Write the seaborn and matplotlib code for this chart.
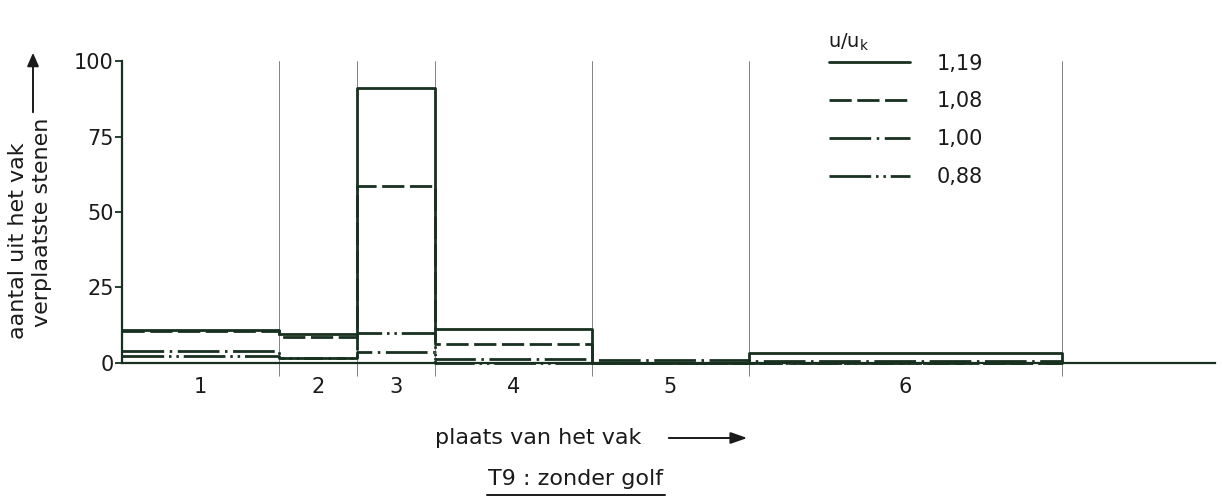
import matplotlib
matplotlib.use("Agg")
import matplotlib.pyplot as plt
import seaborn as sns
import pandas as pd

# Vak boundaries along the flume and the vak numbers
vak_edges = [0, 2, 3, 4, 6, 8, 12]
vak_labels = ["1", "2", "3", "4", "5", "6"]

# Number of stones moved out of each vak, per velocity ratio u/u_k
ratios = ["1,19", "1,08", "1,00", "0,88"]
n_119 = [11, 9.5, 91, 11.2, 0, 3.3]
n_108 = [10.5, 8.5, 58.5, 6.2, 0, 0]
n_100 = [4, 1.8, 3.5, 1.2, 1.0, 0.8]
n_088 = [2.2, 1.8, 10, 0, 0, 0]

y_ticks = [0, 25, 50, 75, 100]

ink = "#17301f"
text_ink = "#1a1a1a"
grid_ink = "#6e6e6e"
fs = 15
fs_cap = 16

sns.set_theme(style="white")
plt.rcParams["font.family"] = ["DejaVu Sans"]
plt.rcParams["lines.scale_dashes"] = False

line_styles = {
    "1,19": "-",
    "1,08": (0, (16, 4)),
    "1,00": (0, (30, 4, 1.8, 4)),
    "0,88": (0, (30, 3.5, 1.8, 3.5, 1.8, 3.5)),
}

fig = plt.figure(figsize=(12.22, 4.98), dpi=100)
ax = fig.add_axes([0.0998, 0.2711, 0.8945, 0.6064])

# Thin separators between the vakken
for e in vak_edges[1:]:
    ax.axvline(e, color=grid_ink, lw=0.6, zorder=1)

series = {"1,19": n_119, "1,08": n_108, "1,00": n_100, "0,88": n_088}
handles = []
for r in ratios[::-1]:
    vals = series[r]
    df = pd.DataFrame({"x": vak_edges, "n": list(vals) + [0]})
    sns.lineplot(data=df, x="x", y="n", ax=ax, color=ink, lw=2.0,
                 linestyle=line_styles[r], drawstyle="steps-post",
                 estimator=None, legend=False, zorder=3)
    ln = ax.lines[-1]
    ln.set_clip_on(False)
    ln.set_label(r)
    handles.append(ln)
handles = handles[::-1]

ax.set_xlim(0, 13.95)
ax.set_ylim(0, 100)
ax.set_xlabel("")
ax.set_ylabel("")

for s in ["top", "right"]:
    ax.spines[s].set_visible(False)
for s in ["left", "bottom"]:
    ax.spines[s].set_color(ink)
    ax.spines[s].set_linewidth(1.6)

ax.set_yticks(y_ticks)
ax.set_yticklabels([str(v) for v in y_ticks])
ax.tick_params(axis="y", direction="out", length=5, width=1.3, color=ink,
               pad=1, labelsize=fs, labelcolor=text_ink, left=True)

# Boundary ticks below the axis, vak numbers centred in each vak
ax.set_xticks(vak_edges[1:])
ax.set_xticklabels([""] * (len(vak_edges) - 1))
ax.tick_params(axis="x", which="major", direction="out", length=9,
               width=0.6, color=grid_ink, bottom=True)
centres = [(a + b) / 2 for a, b in zip(vak_edges[:-1], vak_edges[1:])]
ax.set_xticks(centres, minor=True)
ax.set_xticklabels(vak_labels, minor=True)
ax.tick_params(axis="x", which="minor", length=0, pad=10, labelsize=fs,
               labelcolor=text_ink)

# Y axis caption, two rotated lines with an arrow above
fig.text(18 / 1222, 1 - 241 / 498, "aantal uit het vak", rotation=90,
         ha="center", va="center", fontsize=fs_cap, color=text_ink)
fig.text(42 / 1222, 1 - 222 / 498, "verplaatste stenen", rotation=90,
         ha="center", va="center", fontsize=fs_cap, color=text_ink)
fig.add_artist(matplotlib.patches.FancyArrowPatch(
    (33 / 1222, 1 - 115 / 498), (33 / 1222, 1 - 50 / 498),
    transform=fig.transFigure, arrowstyle="-|>,head_length=8,head_width=3.5",
    lw=1.4, color=text_ink, mutation_scale=1))

# X axis caption with arrow
fig.text(435 / 1222, 1 - 438 / 498, "plaats van het vak", ha="left",
         va="center", fontsize=fs_cap, color=text_ink)
fig.add_artist(matplotlib.patches.FancyArrowPatch(
    (666 / 1222, 1 - 438 / 498), (750 / 1222, 1 - 438 / 498),
    transform=fig.transFigure, arrowstyle="-|>,head_length=10,head_width=3.5",
    lw=1.4, color=text_ink, mutation_scale=1))

# Underlined test caption
fig.text(576 / 1222, 1 - 479 / 498, "T9 : zonder golf", ha="center",
         va="center", fontsize=fs_cap, color=text_ink)
fig.add_artist(matplotlib.lines.Line2D([487 / 1222, 665 / 1222],
                                       [1 - 495 / 498, 1 - 495 / 498],
                                       transform=fig.transFigure,
                                       color=text_ink, lw=1.4))

# Legend title set apart, rows below it
fig.text(828 / 1222, 1 - 42 / 498, "u/u$_\\mathregular{k}$", ha="left",
         va="center", fontsize=fs - 1, color=text_ink)
leg = ax.legend(handles=handles, labels=ratios,
                loc="upper left", bbox_to_anchor=(810 / 1222, 1 - 35 / 498),
                bbox_transform=fig.transFigure, frameon=False, fontsize=fs,
                handlelength=3.9, handletextpad=1.3,
                labelspacing=0.85, alignment="left")
for t in leg.get_texts():
    t.set_color(text_ink)

fig.savefig("out.png", dpi=100, facecolor="white")
